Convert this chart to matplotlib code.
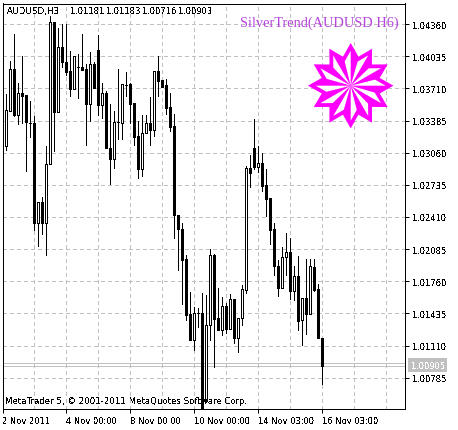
import matplotlib
matplotlib.use("Agg")
import matplotlib.pyplot as plt
import numpy as np
from matplotlib.patches import Polygon, Rectangle

# H3 candles
open_p = [1.03256,1.03128,1.03482,1.03904,1.03442,1.03668,1.03641,1.03364,1.03364,1.02348,
          1.02564,1.02348,1.02949,1.04377,1.03466,1.04124,1.03972,1.03884,1.03702,1.03931,
          1.03931,1.03904,1.03550,1.03955,1.04097,1.03540,1.03661,1.03111,1.02993,1.03374,
          1.03364,1.03749,1.03752,1.03557,1.03226,1.02892,1.03263,1.03364,1.03287,1.03881,
          1.03793,1.03742,1.03526,1.03327,1.02426,1.02291,1.01987,1.01431,1.01167,1.01437,
          1.01437,1.00553,1.01319,1.02028,1.01387,1.01262,1.01505,1.01279,1.01582,1.01188,
          1.01390,1.01674,1.02902,1.03111,1.02915,1.02953,1.02730,1.02598,1.02291,1.01913,
          1.01690,1.02004,1.02055,1.01657,1.01812,1.01363,1.01589,1.01424,1.01903,1.01684,
          1.01181]
high_p = [1.03331,1.03658,1.03989,1.04259,1.03763,1.04039,1.03641,1.03584,1.03432,1.02564,
          1.02615,1.03128,1.04444,1.04377,1.04316,1.04360,1.04360,1.04090,1.04039,1.04056,
          1.04259,1.03955,1.04073,1.03978,1.04248,1.03769,1.03685,1.03550,1.03482,1.03904,
          1.03752,1.03871,1.03769,1.03557,1.03381,1.03438,1.03438,1.03627,1.03887,1.04033,
          1.03793,1.03803,1.03661,1.03449,1.02426,1.02348,1.02028,1.01650,1.01498,1.01488,
          1.01640,1.01623,1.02089,1.02038,1.01694,1.01599,1.01538,1.01633,1.01582,1.01390,
          1.01717,1.02925,1.03033,1.03398,1.03128,1.03061,1.02892,1.02605,1.02348,1.01977,
          1.02106,1.02251,1.02200,1.01910,1.02011,1.01589,1.01987,1.01987,1.01987,1.01734,
          1.01183]
low_p = [1.03128,1.03088,1.03482,1.03432,1.03347,1.03364,1.02875,1.03223,1.02274,1.02112,
         1.02234,1.02021,1.02949,1.03077,1.03466,1.03921,1.03843,1.03634,1.03702,1.03617,
         1.03897,1.03135,1.03381,1.03712,1.03438,1.03415,1.03104,1.02740,1.02909,1.03195,
         1.03202,1.03634,1.03364,1.03135,1.02807,1.02824,1.03263,1.03135,1.03229,1.03634,
         1.03719,1.03449,1.03280,1.02200,1.01876,1.01532,1.01363,1.01167,1.01066,1.01302,
         1.00400,1.00553,1.01161,1.00897,1.01262,1.01221,1.01235,1.01279,1.01133,1.01049,
         1.01319,1.01640,1.02713,1.02892,1.02865,1.02672,1.02416,1.02139,1.01819,1.01606,
         1.01690,1.01819,1.01576,1.01572,1.01262,1.01120,1.01228,1.01424,1.01657,1.01184,
         1.00716]
close_p = [1.03128,1.03489,1.03904,1.03438,1.03668,1.03634,1.03371,1.03364,1.02348,1.02564,
           1.02348,1.02949,1.04377,1.03466,1.04124,1.03978,1.03877,1.03702,1.04039,1.03931,
           1.03897,1.03550,1.03955,1.03712,1.03540,1.03661,1.03104,1.02993,1.03374,1.03374,
           1.03752,1.03749,1.03550,1.03219,1.02892,1.03263,1.03364,1.03287,1.03887,1.03786,
           1.03719,1.03516,1.03320,1.02426,1.02291,1.01970,1.01420,1.01167,1.01437,1.01437,
           1.00470,1.01319,1.02028,1.01380,1.01262,1.01505,1.01279,1.01582,1.01188,1.01390,
           1.01684,1.02902,1.02858,1.02915,1.02953,1.02723,1.02588,1.02274,1.01910,1.01690,
           1.02004,1.02055,1.01657,1.01812,1.01353,1.01589,1.01424,1.01913,1.01674,1.01184,
           1.00903]

price_ticks = [1.04360,1.04035,1.03710,1.03385,1.03060,1.02735,1.02410,1.02085,1.01760,1.01435,1.01110,1.00785]
date_pos = [0,16,32,48,64,80]
date_labels = ["2 Nov 2011","4 Nov 00:00","8 Nov 00:00","10 Nov 00:00","14 Nov 03:00","16 Nov 03:00"]
grid_pos = [8,16,24,32,40,48,56,64,72,80,88,96]
ohlc_labels = ["1.01181","1.01183","1.00716","1.00903"]
bid = 1.00903
ask = 1.00931

W, H = 458, 431
FS = 6.0
plt.rcParams['text.antialiased'] = False
plt.rcParams['font.family'] = 'DejaVu Sans'
fig = plt.figure(figsize=(W/100, H/100), dpi=100, facecolor='white')
ax = fig.add_axes([2.5/W, 1-410.3/H, (405-2.5)/W, (410.3-4.5)/H])
ax.set_xlim(0.04, 100.67)
ax.set_ylim(1.00465, 1.04568)

lw = 0.72  # one pixel
for g in grid_pos:
    ax.axvline(g, color='#c0c0c0', lw=lw, ls=(0,(3,3)), antialiased=False, zorder=1)
for p in price_ticks:
    ax.axhline(p, color='#c0c0c0', lw=lw, ls=(0,(3,3)), antialiased=False, zorder=1)
ax.axhline(bid, color='#c0c0c0', lw=lw, antialiased=False, zorder=1)
ax.axhline(ask, color='#c0c0c0', lw=lw, antialiased=False, zorder=1)

x = np.arange(len(open_p))
o, h, l, c = map(np.array, (open_p, high_p, low_p, close_p))
ax.vlines(x, l, h, color='black', lw=lw, antialiased=False, zorder=2)
ax.bar(x, np.abs(c-o), bottom=np.minimum(o, c), width=0.5,
       color=['white' if cc >= oo else 'black' for oo, cc in zip(o, c)],
       edgecolor='black', lw=lw, antialiased=False, zorder=3)

ax.set_yticks(price_ticks)
ax.set_yticklabels(["%.5f" % p for p in price_ticks], fontsize=FS)
ax.yaxis.tick_right()
ax.set_xticks(date_pos)
ax.set_xticklabels(date_labels, fontsize=FS, ha='left')
ax.tick_params(axis='both', length=3, width=lw, pad=2)
for s in ax.spines.values():
    s.set_linewidth(lw)

# overlay in pixels for texts and the star
ov = fig.add_axes([0, 0, 1, 1], facecolor='none')
ov.set_xlim(0, W)
ov.set_ylim(H, 0)
ov.axis('off')
ov.text(7, 11.5, "AUDUSD,H3", fontsize=6.4, va='center')
for xt, lab in zip([70, 106, 142, 178], ohlc_labels):
    ov.text(xt, 11.5, lab, fontsize=FS, va='center')
ov.text(5, 402, "MetaTrader 5, \u00a9 2001-2011 MetaQuotes Software Corp.", fontsize=6.2, va='center')
ov.text(240, 23, "SilverTrend(AUDUSD H6)", fontsize=10.35, family='Liberation Serif',
        color='#b545dc', va='center', antialiased=True)
ov.add_patch(Rectangle((408, 359), 39, 14, fc='#c0c0c0', ec='none'))
ov.text(411.5, 366.3, "1.00905", fontsize=FS, color='white', va='center')

# star
cx, cy = 350.7, 86.7
R, r_in = 42.7, 30.0
outer = []
for k in range(12):
    a = np.radians(k*30)
    b = np.radians(k*30+15)
    outer.append((cx+R*np.sin(a), cy-R*np.cos(a)))
    outer.append((cx+r_in*np.sin(b), cy-r_in*np.cos(b)))
ov.add_patch(Polygon(outer, fc='#ff00ff', ec='none', zorder=5))
for k in range(12):
    a1 = np.radians(k*30)
    a2 = np.radians(k*30-14)
    pts = [(cx, cy), (cx+35*np.sin(a1), cy-35*np.cos(a1)), (cx+25*np.sin(a2), cy-25*np.cos(a2))]
    ov.add_patch(Polygon(pts, fc='white', ec='none', zorder=6))

fig.savefig("out.png", dpi=100)
